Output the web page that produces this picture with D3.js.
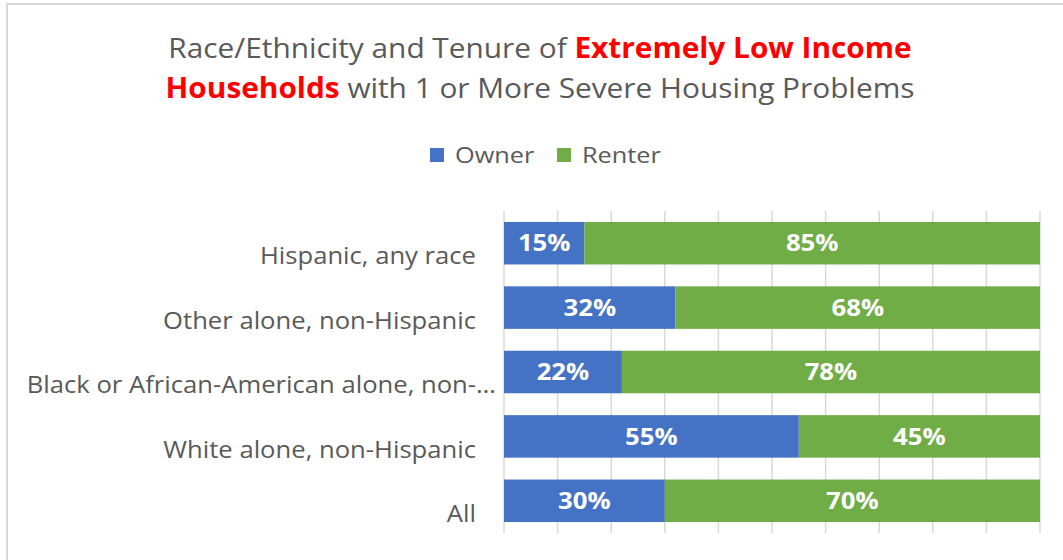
<!DOCTYPE html>
<html>
<head>
<meta charset="utf-8">
<script src="https://cdn.jsdelivr.net/npm/d3@7"></script>
<style>
  body { margin: 0; background: #fff; }
  text { font-family: "Open Sans", "Noto Sans", sans-serif; }
</style>
</head>
<body>
<svg width="1063" height="560"></svg>
<script>
// chart data
const categories = ["Hispanic, any race", "Other alone, non-Hispanic", "Black or African-American alone, non-…", "White alone, non-Hispanic", "All"];
const owner = [15, 32, 22, 55, 30];
const renter = [85, 68, 78, 45, 70];
const seriesNames = ["Owner", "Renter"];
const xTicks = [0, 10, 20, 30, 40, 50, 60, 70, 80, 90, 100];

const colors = {Owner: "#4472C4", Renter: "#70AD47"};
const grey = "#595959";

// the reference text is a bit wide, so stretch it horizontally
const stretch = (px, py, sx) => `translate(${px},${py}) scale(${sx},1)`;

const svg = d3.select("svg");

// chart border
svg.append("rect")
    .attr("x", 7).attr("y", 4)
    .attr("width", 1070).attr("height", 570)
    .attr("fill", "none")
    .attr("stroke", "#d9d9d9")
    .attr("stroke-width", 2);

// Set up plot area
const plot = {left: 504, right: 1040, top: 211, bottom: 533};

const x = d3.scaleLinear()
    .domain([0, 100])
    .range([plot.left, plot.right]);

const y = d3.scaleBand()
    .domain(categories)
    .range([plot.top, plot.bottom])
    .paddingInner(0.34)
    .paddingOuter(0.17);

// vertical gridlines
svg.append("g")
  .selectAll("line")
  .data(xTicks)
  .enter()
  .append("line")
    .attr("x1", d => x(d)).attr("x2", d => x(d))
    .attr("y1", plot.top).attr("y2", plot.bottom)
    .attr("stroke", "#d9d9d9")
    .attr("stroke-width", 1.5);

// stack the two series
const rows = categories.map((c, i) => ({cat: c, Owner: owner[i], Renter: renter[i]}));
const stacked = d3.stack().keys(seriesNames)(rows);

const layer = svg.append("g")
  .selectAll("g")
  .data(stacked)
  .enter()
  .append("g")
    .attr("fill", d => colors[d.key]);

layer.selectAll("rect")
  .data(d => d)
  .enter()
  .append("rect")
    .attr("x", d => x(d[0]))
    .attr("y", d => y(d.data.cat))
    .attr("width", d => x(d[1]) - x(d[0]))
    .attr("height", y.bandwidth());

// data labels
layer.selectAll("text")
  .data(d => d)
  .enter()
  .append("text")
    .attr("transform", d => stretch((x(d[0]) + x(d[1])) / 2, y(d.data.cat) + y.bandwidth() / 2, 1.12))
    .attr("dy", "0.36em")
    .attr("text-anchor", "middle")
    .attr("fill", "#fff")
    .style("font-size", "23px")
    .style("font-weight", "bold")
    .text(d => (d[1] - d[0]) + "%");

// category labels (Excel draws them a bit low)
svg.append("g")
  .selectAll("text")
  .data(categories)
  .enter()
  .append("text")
    .attr("transform", d => stretch(d.endsWith("…") ? 496 : 476, y(d) + y.bandwidth() / 2 + 13, 1.115))
    .attr("dy", "0.36em")
    .attr("text-anchor", "end")
    .attr("fill", grey)
    .style("font-size", "23px")
    .text(d => d);

// title
const title = svg.append("text")
    .attr("transform", stretch(540, 0, 1.065))
    .attr("text-anchor", "middle")
    .attr("fill", grey)
    .style("font-size", "28px");
const t1 = title.append("tspan").attr("x", 0).attr("y", 58);
t1.append("tspan").text("Race/Ethnicity and Tenure of ");
t1.append("tspan").attr("fill", "#ff0000").style("font-weight", "bold").text("Extremely Low Income");
const t2 = title.append("tspan").attr("x", 0).attr("y", 98);
t2.append("tspan").attr("fill", "#ff0000").style("font-weight", "bold").text("Households");
t2.append("tspan").text(" with 1 or More Severe Housing Problems");

// legend
const legendX = [430, 557];
seriesNames.forEach((name, i) => {
    svg.append("rect")
        .attr("x", legendX[i]).attr("y", 148)
        .attr("width", 14).attr("height", 14)
        .attr("fill", colors[name]);
    svg.append("text")
        .attr("transform", stretch(legendX[i] + 25, 163, 1.15))
        .attr("fill", grey)
        .style("font-size", "22px")
        .text(name);
});
</script>
</body>
</html>
